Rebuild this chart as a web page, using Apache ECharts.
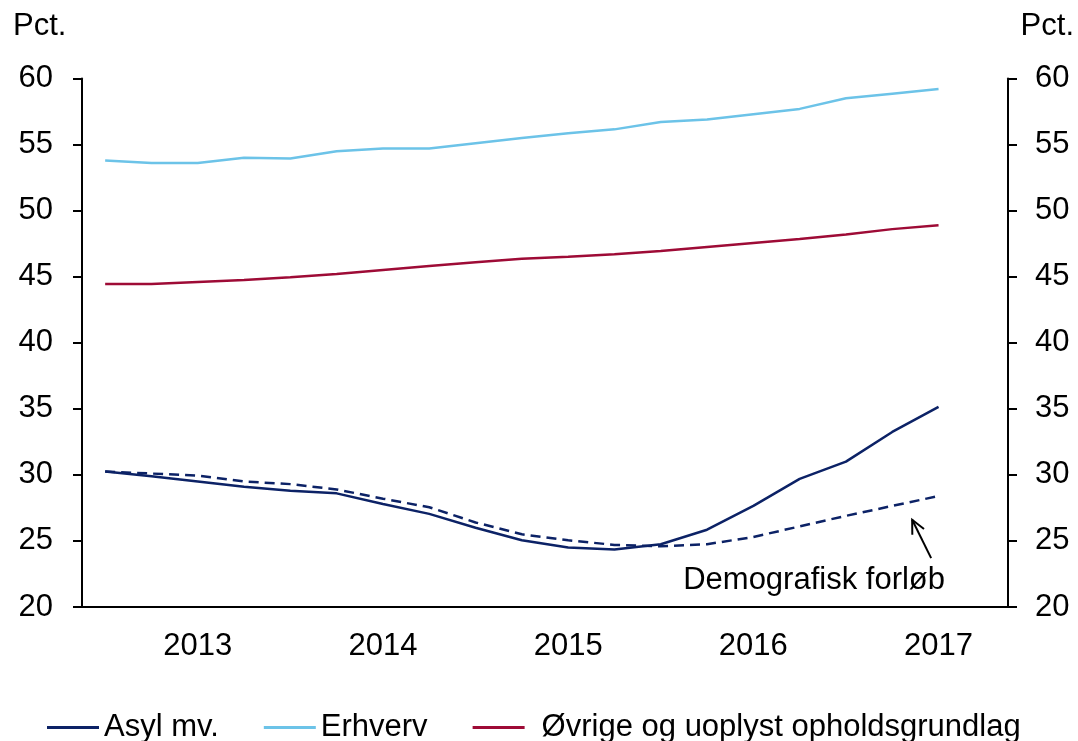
<!DOCTYPE html>
<html><head><meta charset="utf-8">
<script src="https://cdn.jsdelivr.net/npm/echarts@6/dist/echarts.min.js"></script>
<style>html,body{margin:0;padding:0;background:#fff}#c{width:1078px;height:741px}</style>
</head><body><div id="c"></div>
<script>
const categories = ['2012K3','2012K4','2013K1','2013K2','2013K3','2013K4','2014K1','2014K2','2014K3','2014K4','2015K1','2015K2','2015K3','2015K4','2016K1','2016K2','2016K3','2016K4','2017K1','2017K2'];
const asyl = [30.25,29.9,29.5,29.1,28.8,28.6,27.8,27.05,26.0,25.05,24.5,24.35,24.75,25.85,27.65,29.7,31.0,33.25,35.15];
const demografisk = [30.25,30.1,29.95,29.5,29.3,28.9,28.2,27.55,26.4,25.5,25.05,24.7,24.6,24.75,25.3,26.1,26.9,27.65,28.4];
const erhverv = [53.8,53.6,53.6,54.0,53.95,54.5,54.7,54.7,55.1,55.5,55.85,56.15,56.7,56.9,57.3,57.7,58.5,58.85,59.2];
const oevrige = [44.45,44.45,44.6,44.75,44.95,45.2,45.5,45.8,46.1,46.35,46.5,46.7,46.95,47.25,47.55,47.85,48.2,48.6,48.9];
const yTicks = {min: 20, max: 60, interval: 5};
const legendNames = ['Asyl mv.','Erhverv','Øvrige og uoplyst opholdsgrundlag'];

const FONT = 'Liberation Sans, Arial, sans-serif';
const FS = 31;
const chart = echarts.init(document.getElementById('c'), null, {renderer: 'canvas'});
const axisCommon = {
  min: yTicks.min, max: yTicks.max, interval: yTicks.interval,
  axisLine: {show: true, lineStyle: {color: '#000', width: 2}},
  axisTick: {show: true, length: 9, lineStyle: {color: '#000', width: 2}},
  splitLine: {show: false},
  axisLabel: {color: '#000', fontFamily: FONT, fontSize: FS}
};
chart.setOption({
  animation: false,
  grid: {left: 82, right: 70, top: 78.5, bottom: 134},
  legend: {
    data: [
      {name: legendNames[0]},
      {name: legendNames[1]},
      {name: legendNames[2], textStyle: {padding: [0,0,0,12]}}
    ],
    top: 707, left: 42,
    icon: 'rect', itemWidth: 52, itemHeight: 3, itemGap: 45,
    textStyle: {color: '#000', fontFamily: FONT, fontSize: FS, padding: [0,0,0,0]}
  },
  xAxis: {
    type: 'category', data: categories, boundaryGap: true,
    axisLine: {lineStyle: {color: '#000', width: 2}},
    axisTick: {length: 9, lineStyle: {color: '#000', width: 2}, interval: (i) => i % 4 === 0},
    axisLabel: {interval: (i) => i % 4 === 2, formatter: (v) => v.slice(0,4), color: '#000', fontFamily: FONT, fontSize: FS, margin: 24}
  },
  yAxis: [
    Object.assign({type: 'value', position: 'left'}, axisCommon, {axisLabel: Object.assign({}, axisCommon.axisLabel, {margin: 29, padding: [4,0,0,0]})}),
    Object.assign({type: 'value', position: 'right'}, axisCommon, {axisLabel: Object.assign({}, axisCommon.axisLabel, {margin: 27, padding: [4,0,0,0]})})
  ],
  series: [
    {name: 'Asyl mv.', type: 'line', data: asyl, symbol: 'none', lineStyle: {color: '#0c2266', width: 2.5}, itemStyle: {color: '#0c2266'}, z: 5},
    {name: 'Erhverv', type: 'line', data: erhverv, symbol: 'none', lineStyle: {color: '#6cc3e8', width: 2.5}, itemStyle: {color: '#6cc3e8'}},
    {name: 'Øvrige og uoplyst opholdsgrundlag', type: 'line', data: oevrige, symbol: 'none', lineStyle: {color: '#9e0b36', width: 2.5}, itemStyle: {color: '#9e0b36'}},
    {name: 'Demografisk forløb', type: 'line', data: demografisk, symbol: 'none', lineStyle: {color: '#0c2266', width: 2.5, type: [10, 6]}, itemStyle: {color: '#0c2266'}, z: 4}
  ]
});

function px(fi, y) {
  const i = Math.floor(fi), f = fi - i;
  const a = chart.convertToPixel({gridIndex: 0}, [i, y]);
  const b = chart.convertToPixel({gridIndex: 0}, [i + 1, y]);
  return [a[0] + f * (b[0] - a[0]), a[1]];
}
const tip = px(17.43, 26.6), tail = px(17.84, 23.7), lab = px(18.14, 22.0);
const ang = Math.atan2(tail[1] - tip[1], tail[0] - tip[0]);
const hl = 15, ha = 0.45;
const w1 = [tip[0] + hl * Math.cos(ang + ha), tip[1] + hl * Math.sin(ang + ha)];
const w2 = [tip[0] + hl * Math.cos(ang - ha), tip[1] + hl * Math.sin(ang - ha)];
chart.setOption({
  graphic: [
    {type: 'text', left: 13, top: 11, style: {text: 'Pct.', font: FS + 'px ' + FONT, fill: '#000'}},
    {type: 'text', right: 4, top: 11, style: {text: 'Pct.', font: FS + 'px ' + FONT, fill: '#000'}},
    {type: 'line', shape: {x1: tail[0], y1: tail[1], x2: tip[0], y2: tip[1]}, style: {stroke: '#000', lineWidth: 2}},
    {type: 'polyline', shape: {points: [w1, tip, w2]}, style: {stroke: '#000', lineWidth: 2, fill: null}},
    {type: 'text', x: lab[0], y: lab[1], style: {text: 'Demografisk forløb', font: FS + 'px ' + FONT, fill: '#000', align: 'right', verticalAlign: 'middle'}}
  ]
});
</script></body></html>
